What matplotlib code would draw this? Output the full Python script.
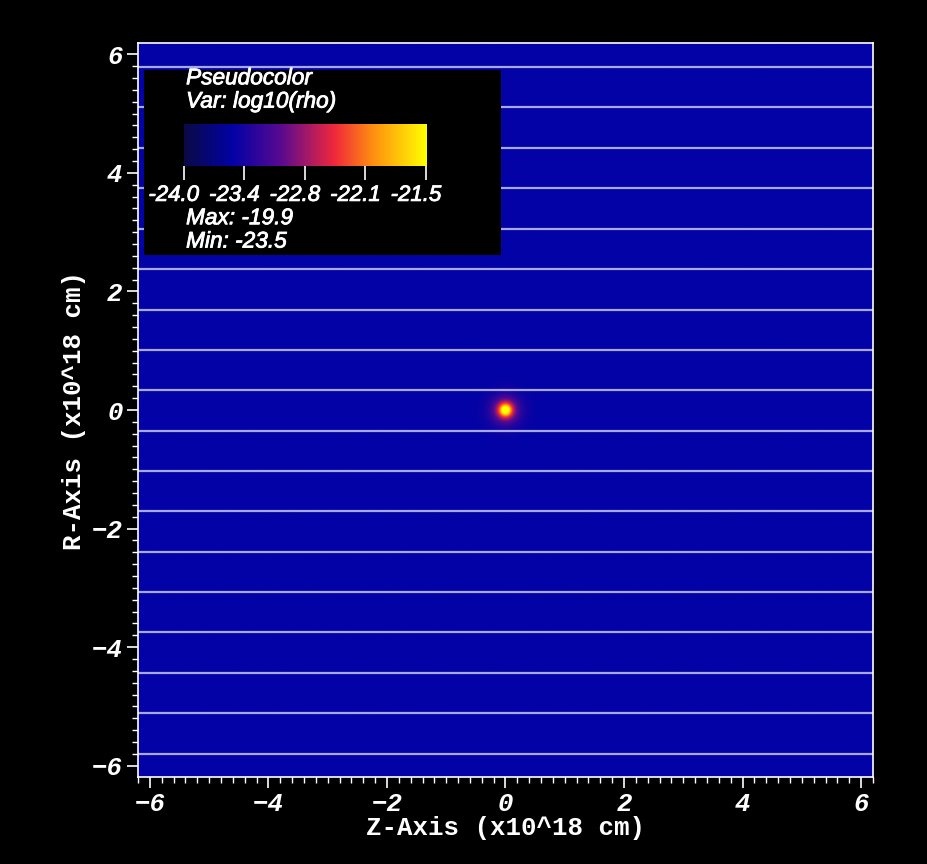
import matplotlib
matplotlib.use("Agg")
import matplotlib.pyplot as plt
import matplotlib.patheffects as pe
import matplotlib.transforms as mtransforms
import numpy as np
from matplotlib.colors import LinearSegmentedColormap, Normalize
from matplotlib.ticker import MultipleLocator
from matplotlib.font_manager import FontProperties

# data
z_lim = (-6.2, 6.2)
r_lim = (-6.19, 6.19)
x_ticks = [-6, -4, -2, 0, 2, 4, 6]
y_ticks = [-6, -4, -2, 0, 2, 4, 6]
block_lines = [-5.80, -5.11, -4.43, -3.74, -3.07, -2.39, -1.70, -1.03, -0.35,
               0.34, 1.01, 1.69, 2.38, 3.05, 3.74, 4.42, 5.11, 5.78]
rho_min = -24.0
rho_max = -21.5
rho_background = -23.5
rho_peak = -19.9
spot_center = (0.0, 0.0)
spot_scale = 0.1
cbar_labels = ["-24.0", "-23.4", "-22.8", "-22.1", "-21.5"]

cmap = LinearSegmentedColormap.from_list("visit_hot", [
    (0.00, "#0a0a46"),
    (0.20, "#0202a6"),
    (0.40, "#5a0a90"),
    (0.62, "#f0283c"),
    (0.78, "#ff9010"),
    (1.00, "#ffff00"),
])
norm = Normalize(rho_min, rho_max)

fig = plt.figure(figsize=(9.28, 8.64), dpi=100, facecolor="black")
ax = fig.add_axes([0.1487, 0.1007, 0.792, 0.8495])
ax.set_facecolor(cmap(norm(rho_background)))

# density field: uniform background with the dense clump at the origin
zz = np.linspace(z_lim[0], z_lim[1], 1000)
rr = np.linspace(r_lim[0], r_lim[1], 1000)
Z, R = np.meshgrid(zz, rr)
dist = np.hypot(Z - spot_center[0], R - spot_center[1])
rho = rho_background + (rho_peak - rho_background) * np.exp(-dist / spot_scale)
ax.imshow(rho, extent=[z_lim[0], z_lim[1], r_lim[0], r_lim[1]], origin="lower",
          cmap=cmap, norm=norm, interpolation="bilinear", aspect="auto")

for y in block_lines:
    ax.axhline(y, color="#a8a8e0", lw=1.6)

ax.set_xlim(z_lim)
ax.set_ylim(r_lim)
ax.set_xticks(x_ticks)
ax.set_yticks(y_ticks)
ax.xaxis.set_minor_locator(MultipleLocator(0.2))
ax.yaxis.set_minor_locator(MultipleLocator(0.2))
ax.set_xticklabels([f"\u2212{abs(v)}" if v < 0 else str(v) for v in x_ticks])
ax.set_yticklabels([f"\u2212{abs(v)}" if v < 0 else str(v) for v in y_ticks])

tick_font = FontProperties(family="Liberation Mono", weight="bold", style="italic", size=18.5)
for lab in ax.get_xticklabels() + ax.get_yticklabels():
    lab.set_fontproperties(tick_font)
    lab.set_color("white")
ax.tick_params(which="major", direction="out", length=8, width=1.2, color="white", pad=3)
ax.tick_params(which="minor", direction="out", length=4, width=1, color="white")
for s in ax.spines.values():
    s.set_color("white")
    s.set_linewidth(1.2)

label_font = dict(family="Liberation Mono", weight="bold", size=18.5, color="white")
ax.set_xlabel("Z-Axis (x10^18 cm)", labelpad=0, **label_font)
ax.set_ylabel("R-Axis (x10^18 cm)", labelpad=4, **label_font)

# legend box
box = fig.add_axes([0.155, 0.705, 0.385, 0.214])
box.set_facecolor("black")
box.set_xticks([])
box.set_yticks([])
for s in box.spines.values():
    s.set_visible(False)

thick = [pe.withStroke(linewidth=0.6, foreground="white")]
leg_font = dict(family="Liberation Sans", style="italic", size=16.3, color="white")
fig.text(0.2005, 0.910, "Pseudocolor", va="center", path_effects=thick, **leg_font)
fig.text(0.2005, 0.883, "Var: log10(rho)", va="center", path_effects=thick, **leg_font)
fig.text(0.2005, 0.748, "Max: " + str(rho_peak), va="center", path_effects=thick, **leg_font)
fig.text(0.2005, 0.721, "Min: " + str(rho_background), va="center", path_effects=thick, **leg_font)

cax = fig.add_axes([0.198, 0.808, 0.261, 0.0486])
grad = np.linspace(rho_min, rho_max, 256)[None, :]
cax.imshow(grad, extent=[0, 1, 0, 1], cmap=cmap, norm=norm, aspect="auto")
cax.set_xlim(0, 1)
cax.set_ylim(0, 1)
cax.set_yticks([])
cbar_pos = np.linspace(0, 1, len(cbar_labels))
cax.set_xticks(cbar_pos)
cax.set_xticklabels([])
cax.tick_params(axis="x", direction="out", length=10, width=1.2, color="white")
for s in cax.spines.values():
    s.set_visible(False)
shift = mtransforms.ScaledTranslation(-0.1, -0.19, fig.dpi_scale_trans)
for p, t in zip(cbar_pos, cbar_labels):
    cax.text(p, 0, t, ha="center", va="top", color="white", family="Liberation Sans",
             style="italic", size=16, path_effects=thick,
             transform=cax.get_xaxis_transform() + shift)

fig.savefig("out.png", dpi=100, facecolor="black")
